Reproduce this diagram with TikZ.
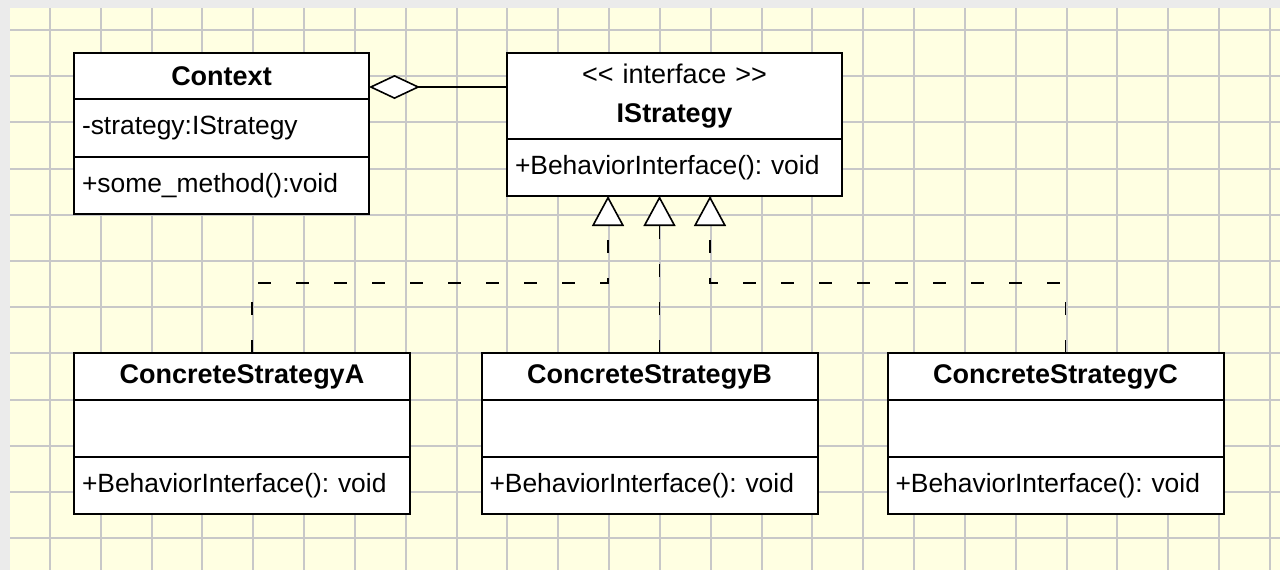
\documentclass[tikz,border=0pt]{standalone}
\usepackage{fontspec}
\setmainfont{Liberation Sans}[Ligatures=TeXOff]
\usetikzlibrary{positioning,arrows.meta}
\frenchspacing

\definecolor{paper}{RGB}{255,255,226}
\definecolor{frame}{RGB}{235,235,235}
\definecolor{gridgray}{RGB}{200,200,200}

\tikzset{gridline/.style={draw=gridgray,line width=1pt},
        umlpart/.style={draw=black,fill=white,line width=1pt,outer sep=0pt,
          inner xsep=4pt,inner ysep=2pt,font=\fontsize{13.5}{19.5}\selectfont},
        ctxpart/.style={umlpart,text width=139.5pt},
        ifpart/.style={umlpart,text width=159.5pt},
        cspart/.style={umlpart,text width=160pt},
        classname/.style={align=center},
        members/.style={align=left,font=\fontsize{13.2}{19.5}\selectfont},
        aggregation/.style={draw,line width=0.8pt,
          -{Diamond[fill=white,length=25.5pt,width=12pt]}},
        realization/.style={draw,line width=0.8pt,dash pattern=on 6.5pt off 12.5pt,
          -{Triangle[fill=white,length=15pt,width=16pt]}}}

\begin{document}
\begin{tikzpicture}[x=0.5pt,y=-0.5pt]
        \useasboundingbox (0,0) rectangle (1280,570);
        \fill[frame] (0,0) rectangle (1280,570);
        \fill[paper] (10,8) rectangle (1280,570);
        \foreach \i in {0,...,24}
          \draw[gridline] ({50+50.83*\i},8) -- ({50+50.83*\i},570);
        \foreach \j in {0,...,11}
          \draw[gridline] (10,{30+46.2*\j}) -- (1280,{30+46.2*\j});

        % Context
        \node[ctxpart,classname,minimum height=23pt] (ctxname) at (221.5,76) {\textbf{Context}};
        \node[ctxpart,members,minimum height=29pt,below=0pt of ctxname] (ctxattr) {-strategy:IStrategy};
        \node[ctxpart,members,minimum height=28.5pt,below=0pt of ctxattr] (ctxops) {+some\_method():void};

        % IStrategy
        \node[ifpart,classname,minimum height=43pt] (ifname) at (674.5,96) {<< interface >>\\\textbf{IStrategy}};
        \node[ifpart,members,minimum height=28.5pt,below=0pt of ifname] (ifops) {+BehaviorInterface(): void};

        % concrete strategies
        \node[cspart,classname,minimum height=23.5pt] (csAname) at (242,376.5) {\textbf{ConcreteStrategyA}};
        \node[cspart,members,minimum height=28.5pt,below=0pt of csAname] (csAattr) {};
        \node[cspart,members,minimum height=28.5pt,below=0pt of csAattr] (csAops) {+BehaviorInterface(): void};

        \node[cspart,classname,minimum height=23.5pt] (csBname) at (649.5,376.5) {\textbf{ConcreteStrategyB}};
        \node[cspart,members,minimum height=28.5pt,below=0pt of csBname] (csBattr) {};
        \node[cspart,members,minimum height=28.5pt,below=0pt of csBattr] (csBops) {+BehaviorInterface(): void};

        \node[cspart,classname,minimum height=23.5pt] (csCname) at (1055.5,376.5) {\textbf{ConcreteStrategyC}};
        \node[cspart,members,minimum height=28.5pt,below=0pt of csCname] (csCattr) {};
        \node[cspart,members,minimum height=28.5pt,below=0pt of csCattr] (csCops) {+BehaviorInterface(): void};

        \coordinate (aggr) at (0,87);
        \coordinate (jA) at (608,283);
        \coordinate (jC) at (710,283);

        \path [aggregation] (ifname.west |- aggr) -- (ctxname.east |- aggr);
        \path [realization] ([xshift=5pt]csAname.north) |- (jA) -- (jA |- ifops.south);
        \path [realization] ([xshift=5pt]csBname.north) -- ([xshift=5pt]csBname.north |- ifops.south);
        \path [realization] ([xshift=5pt]csCname.north) |- (jC) -- (jC |- ifops.south);
      \end{tikzpicture}
\end{document}
